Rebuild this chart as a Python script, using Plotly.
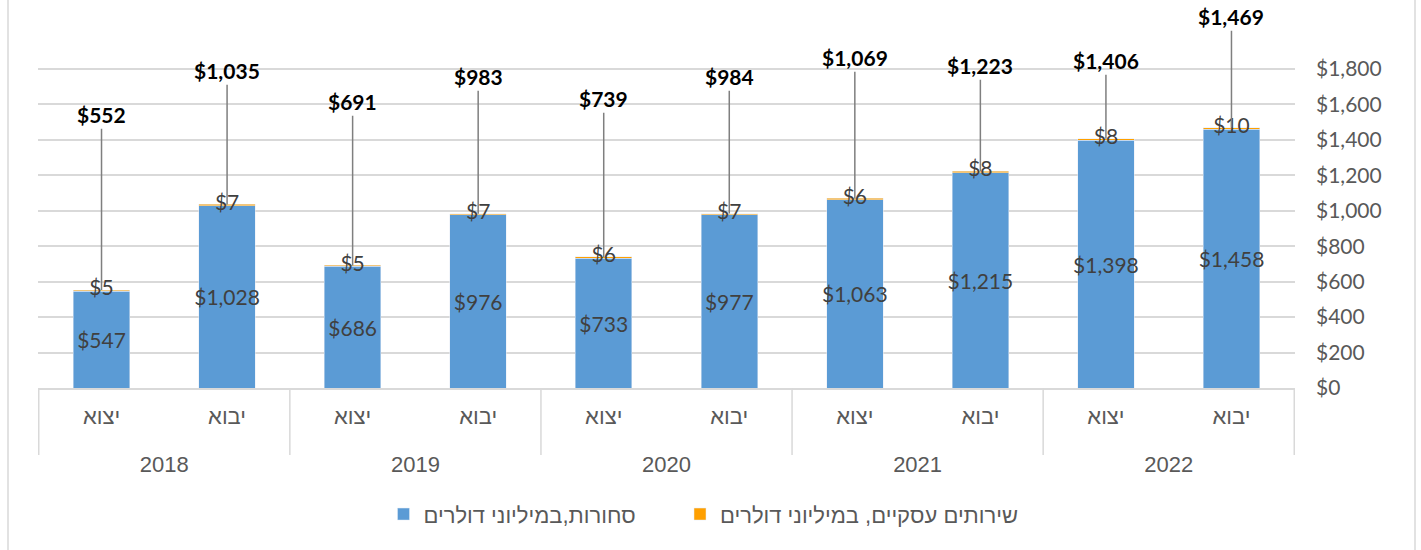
import plotly.graph_objects as go

# ---- data ----
years = ["2018", "2018", "2019", "2019", "2020", "2020", "2021", "2021", "2022", "2022"]
flows = ["יצוא", "יבוא", "יצוא", "יבוא", "יצוא", "יבוא", "יצוא", "יבוא", "יצוא", "יבוא"]
goods = [547, 1028, 686, 976, 733, 977, 1063, 1215, 1398, 1458]
services = [5, 7, 5, 7, 6, 7, 6, 8, 8, 10]
totals = [552, 1035, 691, 983, 739, 984, 1069, 1223, 1406, 1469]
y_ticks = [0, 200, 400, 600, 800, 1000, 1200, 1400, 1600, 1800]

goods_name = "סחורות,במיליוני דולרים"
services_name = "שירותים עסקיים, במיליוני דולרים"

# ---- layout helpers (label placement, not data) ----
total_label_y = [1541, 1789, 1614, 1755, 1631, 1755, 1862, 1817, 1845, 2094]

BLUE = "#5B9BD5"
ORANGE = "#FFA000"
GRID = "#D9D9D9"
NUM_FONT = "Lato, 'Open Sans', sans-serif"
HEB_FONT = "'Liberation Sans', Arial, sans-serif"

fmt = lambda v: "${:,}".format(v)

x = [["<br>" + y for y in years], flows]

fig = go.Figure()
fig.add_trace(go.Bar(
    x=x, y=goods, name=goods_name, marker_color=BLUE, legend="legend",
    text=[fmt(v) for v in goods], textposition="inside", insidetextanchor="middle",
    textangle=0,
    insidetextfont=dict(family=NUM_FONT, size=21, color="#404040"),
))
fig.add_trace(go.Bar(
    x=x, y=services, name=services_name, marker_color=ORANGE, legend="legend2",
))
fig.add_trace(go.Scatter(
    x=x, y=totals, mode="text", text=[fmt(v) for v in services],
    textposition="middle center", cliponaxis=False, showlegend=False,
    textfont=dict(family=NUM_FONT, size=21, color="#404040"),
    hoverinfo="skip",
))

for i, (t, ly) in enumerate(zip(totals, total_label_y)):
    fig.add_annotation(
        x=i, y=t, xref="x", yref="y",
        ax=0, ay=ly, axref="pixel", ayref="y",
        text="<b>" + fmt(t) + "</b>",
        showarrow=True, arrowhead=0, arrowwidth=1.5, arrowcolor="#7F7F7F",
        standoff=0, startstandoff=0,
        font=dict(family=NUM_FONT, size=21, color="#000000"),
    )

# group dividers under the axis (at year boundaries)
bounds = [-0.5] + [i + 0.5 for i in range(len(years)) if i == len(years) - 1 or years[i] != years[i + 1]]
for b in bounds:
    fig.add_shape(type="line", xref="x", yref="paper", x0=b, x1=b,
                  y0=0, y1=-(455 - 388) / 383, line=dict(color=GRID, width=1.5))

# outer chart border (left/right edges visible)
for px in (8, 1415):
    fig.add_shape(type="line", xref="paper", yref="paper",
                  x0=(px - 38) / 1257, x1=(px - 38) / 1257, y0=-1, y1=2,
                  line=dict(color=GRID, width=1.5))

leg_common = dict(orientation="h", xref="container", yref="container",
                  y=0.065, yanchor="middle", xanchor="left",
                  font=dict(family=HEB_FONT, size=22, color="#595959"),
                  bgcolor="rgba(0,0,0,0)")

fig.update_layout(
    width=1421, height=550,
    margin=dict(l=38, r=126, t=5, b=162),
    barmode="stack", bargap=0.55,
    plot_bgcolor="white", paper_bgcolor="white",
    uniformtext=dict(minsize=21, mode="show"),
    showlegend=True,
    legend=dict(x=(403.5 - 20) / 1421, **leg_common),
    legend2=dict(x=(700 - 20) / 1421, **leg_common),
    xaxis=dict(type="multicategory", showline=True, linecolor=GRID, linewidth=1.5,
               showdividers=False,
               ticklabelstandoff=8,
               tickfont=dict(family=HEB_FONT, size=22, color="#595959"),
               showgrid=False),
    yaxis=dict(side="right", range=[0, 2160], tickvals=y_ticks,
               ticktext=[fmt(v) for v in y_ticks],
               showgrid=True, gridcolor=GRID, gridwidth=1.5, zeroline=False,
               ticklabelstandoff=20,
               tickfont=dict(family=NUM_FONT, size=21, color="#595959")),
)

fig.write_html("out.html")
